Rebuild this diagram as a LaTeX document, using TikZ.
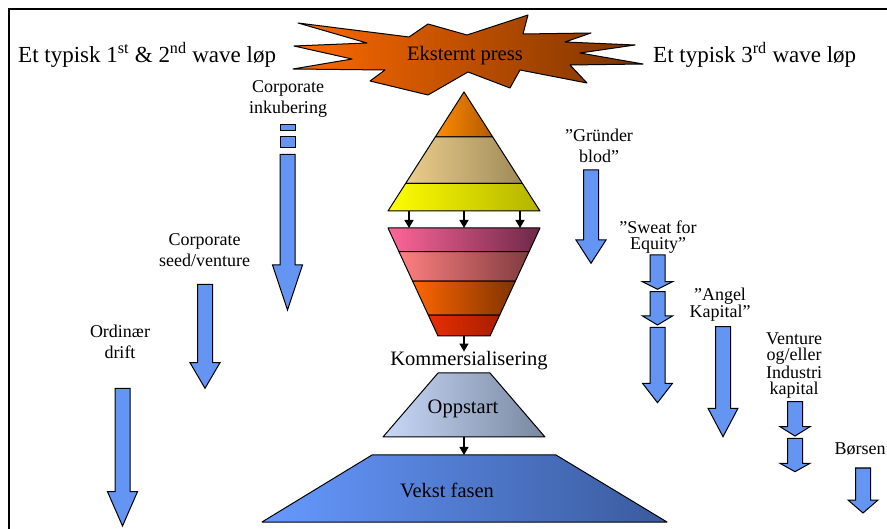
\documentclass[tikz,border=0pt]{standalone}
\usepackage{fontspec}
\setmainfont{Liberation Serif}
\usetikzlibrary{arrows.meta,calc}
\definecolor{flow}{HTML}{6495F2}
\definecolor{pressL}{HTML}{FF6A00}
\definecolor{pressR}{HTML}{7A3300}

\newcommand{\flowdown}[4]{%
  \path[flowarrow] (#1-7.5,#2) -- (#1+7.5,#2) -- (#1+7.5,#3) -- (#1+15,#3)
    -- (#1,#4) -- (#1-15,#3) -- (#1-7.5,#3) -- cycle;}

\begin{document}
\begin{tikzpicture}[x=1pt, y=-1pt,
  lbl/.style={font=\fontsize{18}{#1}\selectfont, align=center, inner sep=0pt, anchor=north},
  lbl/.default=21,
  heading/.style={font=\fontsize{23}{27}\selectfont, inner sep=0pt, anchor=base west},
  phase/.style={font=\fontsize{20.5}{24}\selectfont, inner sep=0pt, anchor=base},
  band/.style={draw=black, line width=1pt, line join=round},
  flowarrow/.style={draw=black, fill=flow, line width=1pt, line join=miter},
  link/.style={-{Triangle[length=8pt,width=9pt]}, line width=1.2pt}
]
  \useasboundingbox (0,0) rectangle (887,529);
  \draw[line width=1.8pt] (900,9) -- (9,9) -- (9,540);

  % eksternt press
  \path[band, left color=pressL, right color=pressR]
    (298,23) -- (409,37) -- (428,24) -- (467,35) -- (528,15) -- (523,34)
    -- (591,33) -- (565,42) -- (635,45) -- (580,53) -- (643,64) -- (570,65)
    -- (587,83) -- (520,70) -- (510,88) -- (468,72) -- (428,95) -- (370,81)
    -- (385,70) -- (293,69) -- (352,59) -- (294,46) -- (367,43) -- cycle;
  \node[phase] (press) at (465,60.5) {Eksternt press};

  \node[heading] (wave12) at (18,63) {Et typisk 1\textsuperscript{st} \& 2\textsuperscript{nd} wave løp};
  \node[heading] (wave3) at (653,63) {Et typisk 3\textsuperscript{rd} wave løp};

  % pyramide
  \coordinate (pyr-t) at (464,92);
  \coordinate (pyr-l) at (388,211);
  \coordinate (pyr-r) at (540,211);
  \path[band, left color=orange!90!yellow, right color=orange!70!black]
    (pyr-t) -- ($(pyr-t)!0.378!(pyr-r)$) -- ($(pyr-t)!0.378!(pyr-l)$) -- cycle;
  \path[band, left color={rgb,255:red,236;green,206;blue,140}, right color={rgb,255:red,158;green,138;blue,88}]
    ($(pyr-t)!0.378!(pyr-l)$) -- ($(pyr-t)!0.378!(pyr-r)$)
    -- ($(pyr-t)!0.767!(pyr-r)$) -- ($(pyr-t)!0.767!(pyr-l)$) -- cycle;
  \path[band, left color=yellow, right color=yellow!70!black]
    ($(pyr-t)!0.767!(pyr-l)$) -- ($(pyr-t)!0.767!(pyr-r)$) -- (pyr-r) -- (pyr-l) -- cycle;

  % trakt
  \coordinate (fun-l) at (388,228);
  \coordinate (fun-r) at (540,228);
  \coordinate (fun-bl) at (438,336);
  \coordinate (fun-br) at (490,336);
  \path[band, left color={rgb,255:red,255;green,102;blue,153}, right color={rgb,255:red,110;green,40;blue,72}]
    (fun-l) -- (fun-r) -- ($(fun-r)!0.219!(fun-br)$) -- ($(fun-l)!0.219!(fun-bl)$) -- cycle;
  \path[band, left color={rgb,255:red,255;green,128;blue,128}, right color={rgb,255:red,128;green,60;blue,64}]
    ($(fun-l)!0.219!(fun-bl)$) -- ($(fun-r)!0.219!(fun-br)$)
    -- ($(fun-r)!0.491!(fun-br)$) -- ($(fun-l)!0.491!(fun-bl)$) -- cycle;
  \path[band, left color={rgb,255:red,255;green,102;blue,0}, right color={rgb,255:red,128;green,51;blue,0}]
    ($(fun-l)!0.491!(fun-bl)$) -- ($(fun-r)!0.491!(fun-br)$)
    -- ($(fun-r)!0.806!(fun-br)$) -- ($(fun-l)!0.806!(fun-bl)$) -- cycle;
  \path[band, left color={rgb,255:red,232;green,46;blue,0}, right color={rgb,255:red,168;green,30;blue,0}]
    ($(fun-l)!0.806!(fun-bl)$) -- ($(fun-r)!0.806!(fun-br)$) -- (fun-br) -- (fun-bl) -- cycle;

  \foreach \x in {409,464,520}
    \draw[link] (\x,211) -- (\x,228);

  \coordinate (fun-b) at (464,336);
  \node[phase] (komm) at (469,366) {Kommersialisering};
  \draw[link] (fun-b) -- (fun-b |- komm.north);

  % oppstart og vekst
  \path[band, left color={rgb,255:red,200;green,216;blue,248}, right color={rgb,255:red,120;green,136;blue,160}]
    (438,373) -- (490,373) -- (545,437) -- (383,437) -- cycle;
  \node[phase] (oppstart) at (463,414) {Oppstart};
  \path[band, left color={rgb,255:red,102;green,153;blue,255}, right color={rgb,255:red,58;green,90;blue,156}]
    (372,455) -- (556,455) -- (667,522) -- (262,522) -- cycle;
  \node[phase] (vekst) at (447,497) {Vekst fasen};
  \coordinate (opp-b) at (464,437);
  \coordinate (vek-t) at (464,455);
  \draw[link] (opp-b) -- (vek-t);

  % 1st og 2nd wave
  \node[lbl] (inkub) at (288,80.7) {Corporate\\inkubering};
  \path[flowarrow] (280,125) rectangle (295,131);
  \path[flowarrow] (280,137) rectangle (295,148);
  \flowdown{287.5}{154.3}{265}{310}
  \node[lbl] (seed) at (204.5,233.7) {Corporate\\seed/venture};
  \flowdown{205}{284.3}{362.7}{388.3}
  \node[lbl] (drift) at (120,325) {Ordinær\\drift};
  \flowdown{122.5}{388.3}{491.7}{526}

  % 3rd wave
  \node[lbl] (grunder) at (599,128.4) {”Gründer\\blod”};
  \flowdown{591}{170}{240}{263.3}
  \node[lbl=16] (sweat) at (658,221) {”Sweat for\\Equity”};
  \flowdown{657.5}{255}{281.7}{289.3}
  \flowdown{657.5}{291.7}{316}{325}
  \flowdown{657.5}{327.3}{383.3}{402.7}
  \node[lbl=17] (angel) at (720,287.7) {”Angel\\Kapital”};
  \flowdown{723}{326.7}{408.3}{436.7}
  \node[lbl=15.9] (venture) at (794,333) {Venture\\og/eller\\Industri\\kapital};
  \flowdown{795}{401.7}{426.7}{436}
  \flowdown{795}{438.3}{463.3}{471.7}
  \node[phase, font=\fontsize{18}{21}\selectfont] (borsen) at (860,454) {Børsen};
  \flowdown{863}{468}{500}{513}
\end{tikzpicture}
\end{document}
